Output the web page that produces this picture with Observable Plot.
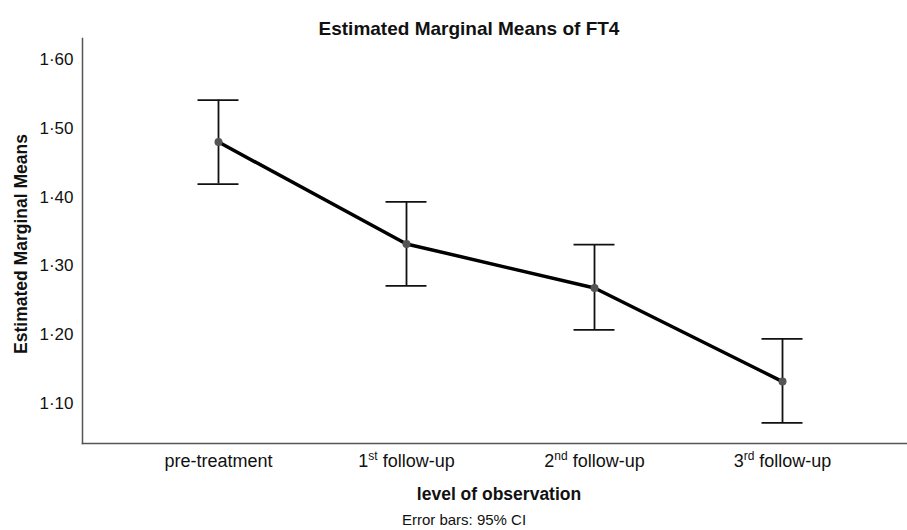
<!DOCTYPE html>
<html>
<head>
<meta charset="utf-8">
<script src="https://cdn.jsdelivr.net/npm/d3@7"></script>
<script src="https://cdn.jsdelivr.net/npm/@observablehq/plot@0.6"></script>
<style>
  html, body { margin: 0; padding: 0; background: #fff; }
  #chart svg { display: block; }
</style>
</head>
<body>
<div id="chart"></div>
<script>
const categories = ["pre-treatment", "1st follow-up", "2nd follow-up", "3rd follow-up"];
const means = [1.480, 1.332, 1.268, 1.132];
const lower = [1.419, 1.271, 1.207, 1.072];
const upper = [1.541, 1.393, 1.331, 1.194];
const yTicks = [1.10, 1.20, 1.30, 1.40, 1.50, 1.60];

const titleText = "Estimated Marginal Means of FT4";
const yLabel = "Estimated Marginal Means";
const xLabel = "level of observation";
const captionText = "Error bars: 95% CI";

const data = categories.map((c, i) => ({cat: c, mean: means[i], lo: lower[i], hi: upper[i]}));
const font = "'Liberation Sans', Arial, sans-serif";

const chart = Plot.plot({
  width: 907,
  height: 530,
  marginLeft: 82,
  marginRight: 0,
  marginTop: 38,
  marginBottom: 87,
  style: {fontFamily: font, fontSize: "17px", color: "#111", background: "#fff", overflow: "visible"},
  x: {type: "band", domain: categories, paddingInner: 0.782, paddingOuter: 0, round: false, insetLeft: 115.5, insetRight: 104.5},
  y: {domain: [1.042, 1.6305]},
  marks: [
    Plot.frame({anchor: "left", stroke: "#555", strokeWidth: 1.5}),
    Plot.frame({anchor: "bottom", stroke: "#555", strokeWidth: 1.5}),
    Plot.axisY({ticks: yTicks, tickSize: 0, tickPadding: 9, label: null,
      tickFormat: d => d3.format(".2f")(d).replace(".", "\u00B7"), fontSize: 17}),
    Plot.axisX({tickSize: 0, tickPadding: 11, label: null, fontSize: 18}),
    Plot.ruleX(data, {x: "cat", y1: "lo", y2: "hi", stroke: "#111", strokeWidth: 1.8}),
    Plot.tickY(data, {x: "cat", y: "lo", stroke: "#111", strokeWidth: 1.8}),
    Plot.tickY(data, {x: "cat", y: "hi", stroke: "#111", strokeWidth: 1.8}),
    Plot.line(data, {x: "cat", y: "mean", stroke: "#000", strokeWidth: 3.5}),
    Plot.dot(data, {x: "cat", y: "mean", r: 4, fill: "#555", stroke: "none"}),
    Plot.text([titleText], {frameAnchor: "top", dy: -17, dx: -26, fontSize: 19, fontWeight: "bold", fill: "#111"}),
    Plot.text([yLabel], {frameAnchor: "left", textAnchor: "middle", dx: -61, dy: 3, rotate: -90, fontSize: 17.5, fontWeight: "bold", fill: "#111"}),
    Plot.text([xLabel], {frameAnchor: "bottom", dy: 56, dx: 4, fontSize: 17.5, fontWeight: "bold", fill: "#111"}),
    Plot.text([captionText], {frameAnchor: "bottom", dy: 81, dx: -31, fontSize: 15, fill: "#111"})
  ]
});

// superscript ordinal suffixes in the x tick labels
d3.select(chart).selectAll('g[aria-label="x-axis tick label"] text').each(function() {
  const t = this.textContent;
  const m = t.match(/^(\d+)(st|nd|rd|th) (.*)$/);
  if (!m) return;
  const el = d3.select(this);
  el.text(null);
  el.append("tspan").text(m[1]);
  el.append("tspan").attr("dy", -7).attr("font-size", 12).text(m[2]);
  el.append("tspan").attr("dy", 7).text(" " + m[3]);
});

document.getElementById("chart").appendChild(chart);
</script>
</body>
</html>
